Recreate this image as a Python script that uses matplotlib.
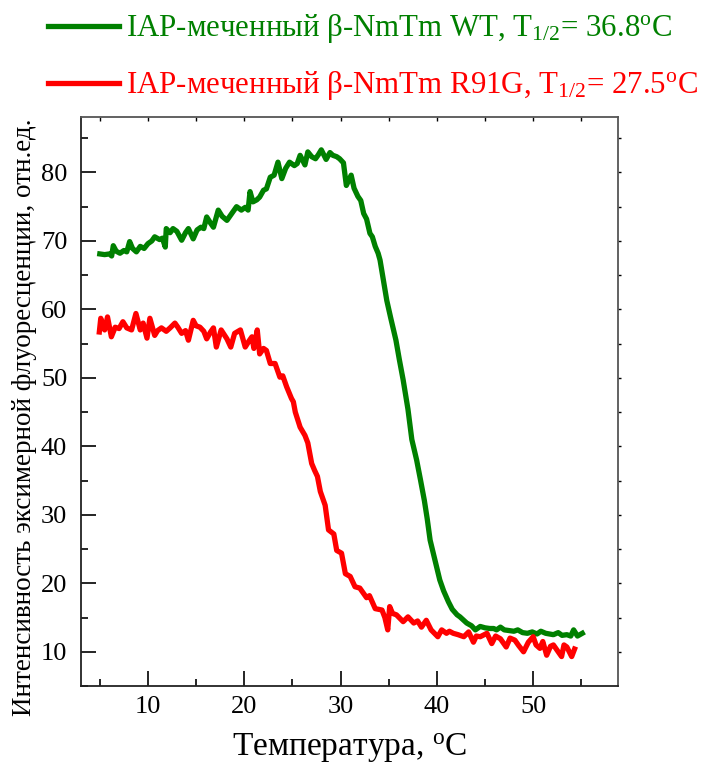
import matplotlib
matplotlib.use("Agg")
import matplotlib.pyplot as plt
from matplotlib.ticker import MultipleLocator

plt.rcParams["font.family"] = ["Liberation Serif", "DejaVu Serif"]
plt.rcParams["mathtext.fontset"] = "custom"
plt.rcParams["mathtext.rm"] = "Liberation Serif"
plt.rcParams["mathtext.it"] = "Liberation Serif:italic"

# WT melting curve (T in degC, signal in a.u.)
wt_temp = [5.0, 5.5, 6.0, 6.23, 6.4, 6.7, 7.1, 7.5, 7.8, 8.1,
           8.4, 8.8, 9.2, 9.6, 10.0, 10.4, 10.7, 11.2, 11.5, 11.8,
           11.9, 12.3, 12.6, 13.0, 13.5, 13.9, 14.2, 14.7, 15.1, 15.5,
           15.8, 16.1, 16.5, 16.8, 17.3, 17.7, 18.2, 18.7, 19.2, 19.7,
           20.1, 20.4, 20.6, 20.9, 21.3, 21.6, 22.0, 22.3, 22.7, 23.1,
           23.5, 23.9, 24.3, 24.7, 25.2, 25.5, 25.8, 26.3, 26.6, 27.0,
           27.4, 27.7, 28.0, 28.5, 28.9, 29.2, 29.6, 29.9, 30.3, 30.6,
           31.1, 31.4, 31.8, 32.1, 32.4, 32.7, 33.05, 33.3, 33.6, 33.9,
           34.1, 34.4, 34.8, 35.2, 35.75, 36.1, 36.5, 37.0, 37.4, 37.9,
           38.3, 38.7, 39.0, 39.3, 39.8, 40.3, 40.7, 41.2, 41.6, 42.1,
           42.4, 43.1, 43.6, 44.0, 44.5, 45.0, 45.5, 45.9, 46.2, 46.6,
           47.0, 47.5, 48.0, 48.4, 48.9, 49.4, 49.9, 50.4, 50.8, 51.3,
           51.7, 52.1, 52.6, 53.0, 53.5, 53.9, 54.2, 54.6, 55.1]
wt_signal = [68.1, 68.0, 68.1, 67.8, 69.3, 68.5, 68.2, 68.6, 68.4, 69.9,
             68.9, 68.4, 69.2, 68.9, 69.6, 70.0, 70.6, 70.2, 70.4, 69.1,
             71.8, 71.2, 71.8, 71.4, 70.1, 71.2, 71.8, 70.3, 71.6, 72.0,
             71.8, 73.5, 72.6, 72.0, 74.5, 73.6, 73.0, 74.0, 75.0, 74.5,
             74.9, 74.5, 77.2, 75.7, 76.0, 76.4, 77.4, 77.6, 79.3, 79.6,
             81.5, 79.1, 80.6, 81.5, 81.0, 81.3, 82.5, 81.1, 83.0, 82.3,
             82.0, 82.6, 83.3, 81.9, 82.9, 82.5, 82.3, 82.0, 81.4, 78.1,
             79.6, 77.7, 76.5, 75.9, 74.0, 73.2, 71.1, 70.6, 69.2, 68.2,
             67.2, 64.7, 61.3, 58.8, 55.5, 52.7, 49.7, 45.4, 41.0, 38.0,
             35.1, 32.1, 29.4, 26.3, 23.4, 20.5, 18.9, 17.3, 16.2, 15.4,
             15.1, 14.2, 13.8, 13.2, 13.7, 13.5, 13.4, 13.4, 13.2, 13.6,
             13.2, 13.1, 13.0, 13.2, 12.8, 12.7, 12.9, 12.6, 13.0, 12.7,
             12.6, 12.5, 12.8, 12.4, 12.5, 12.3, 13.2, 12.3, 12.7]

# R91G melting curve
r91g_temp = [4.95, 5.1, 5.5, 5.8, 6.2, 6.6, 7.0, 7.4, 7.8, 8.3, 8.75, 9.2, 9.5, 9.9,
             10.2, 10.7, 11.0, 11.4, 11.9, 12.3, 12.8, 13.1, 13.5, 13.9, 14.2, 14.7,
             15.0, 15.4, 15.8, 16.1, 16.5, 16.8, 17.1, 17.6, 18.2, 18.6, 19.0, 19.6,
             20.1, 20.5, 20.8, 21.0, 21.35, 21.6, 22.0, 22.3, 22.7, 23.2, 23.7, 24.0,
             24.4, 24.9, 25.1, 25.3, 25.8, 26.3, 26.6, 27.0, 27.3, 27.6, 27.9, 28.4,
             28.75, 29.3, 29.6, 30.1, 30.5, 31.0, 31.5, 32.0, 32.7, 33.0, 33.6, 34.3,
             34.6, 34.9, 35.1, 35.4, 35.8, 36.5, 37.0, 37.6, 38.0, 38.4, 38.9, 39.4,
             40.1, 40.5, 41.0, 41.3, 41.7, 42.2, 42.8, 43.3, 43.8, 44.1, 44.5, 45.2,
             45.7, 46.1, 46.6, 47.2, 47.6, 48.1, 48.5, 49.0, 49.5, 50.0, 50.3, 50.7,
             51.0, 51.4, 51.8, 52.1, 52.5, 52.95, 53.2, 53.5, 54.0, 54.3]
r91g_signal = [56.7, 58.7, 57.0, 58.9, 56.0, 57.4, 57.2, 58.2, 57.3, 57.0, 59.4, 57.0,
               58.0, 55.8, 58.7, 56.2, 56.9, 57.3, 56.8, 57.3, 58.0, 57.4, 56.5, 56.9,
               55.5, 58.4, 57.6, 57.4, 56.8, 55.7, 56.7, 57.3, 54.5, 57.0, 55.7, 54.5,
               56.5, 57.0, 54.5, 55.4, 56.0, 54.3, 57.0, 53.5, 54.3, 54.0, 52.1, 52.1,
               50.1, 50.3, 48.7, 47.0, 46.5, 45.0, 42.8, 41.6, 40.5, 37.5, 36.5, 35.6,
               33.4, 31.4, 27.8, 27.2, 24.8, 24.4, 21.4, 21.0, 19.5, 19.3, 17.9, 18.2,
               16.3, 16.1, 15.0, 13.2, 16.6, 15.6, 15.4, 14.4, 15.1, 14.2, 14.5, 13.6,
               14.6, 13.2, 12.2, 13.2, 12.7, 13.0, 12.7, 12.5, 12.2, 12.9, 11.4, 12.3,
               12.2, 12.7, 11.2, 12.3, 11.9, 10.7, 12.0, 11.7, 10.9, 10.0, 11.4, 12.2,
               11.0, 10.5, 11.5, 9.5, 10.8, 11.0, 10.2, 9.3, 11.0, 10.7, 9.3, 10.4]

wt_label = r"IAP-меченный β-NmTm WT, T$_{1/2}$= 36.8$^{\rm o}$C"
r91g_label = r"IAP-меченный β-NmTm R91G, T$_{1/2}$= 27.5$^{\rm o}$C"

fig = plt.figure(figsize=(7.07, 7.66), dpi=100)
ax = fig.add_axes([0.1146, 0.1044, 0.7594, 0.7429])

l1, = ax.plot(wt_temp, wt_signal, color="#008000", lw=3.8, label=wt_label)
l2, = ax.plot(r91g_temp, r91g_signal, color="#ff0000", lw=3.8, label=r91g_label)

ax.set_xlim(3.05, 58.8)
ax.set_ylim(5.0, 88.1)
ax.xaxis.set_major_locator(MultipleLocator(10))
ax.xaxis.set_minor_locator(MultipleLocator(5))
ax.yaxis.set_major_locator(MultipleLocator(10))
ax.yaxis.set_minor_locator(MultipleLocator(5))
ax.tick_params(which="major", direction="in", length=11, width=1.2,
               labelsize=19, top=False, right=False)
ax.tick_params(axis="x", which="major", pad=7)
ax.tick_params(axis="y", which="major", pad=10)
ax.tick_params(which="minor", direction="in", length=5, width=1.2,
               top=False, right=False)
for s in ("left", "bottom"):
    ax.spines[s].set_linewidth(1.3)
    ax.spines[s].set_color("#222222")
for s in ("top", "right"):
    ax.spines[s].set_linewidth(1.3)
    ax.spines[s].set_color("#555555")

# small ticks on top and right borders
tx = ax.secondary_xaxis("top")
tx.set_xticks([5, 10, 15, 20, 25, 30, 35, 40, 45, 50, 55])
tx.tick_params(direction="in", length=3, width=1, labeltop=False)
tx.spines["top"].set_visible(False)
ty = ax.secondary_yaxis("right")
ty.set_yticks(list(range(10, 90, 5)))
ty.tick_params(direction="out", length=2, width=1, labelright=False)
ty.spines["right"].set_visible(False)

ax.set_xlabel(r"Температура, $^{\rm o}$C", fontsize=24, labelpad=10)
ax.set_ylabel("Интенсивность эксимерной флуоресценции, отн.ед.", fontsize=19.5)
ax.yaxis.set_label_coords(-0.082, 0.473)

leg = fig.legend(handles=[l1, l2], loc="upper left", bbox_to_anchor=(0.05, 1.0),
                 frameon=False, fontsize=22.2, handlelength=2.3, handletextpad=0.25,
                 labelspacing=0.78, borderaxespad=0.0)
for txt, col in zip(leg.get_texts(), ["#008000", "#ff0000"]):
    txt.set_color(col)

fig.savefig("out.png", dpi=100)
